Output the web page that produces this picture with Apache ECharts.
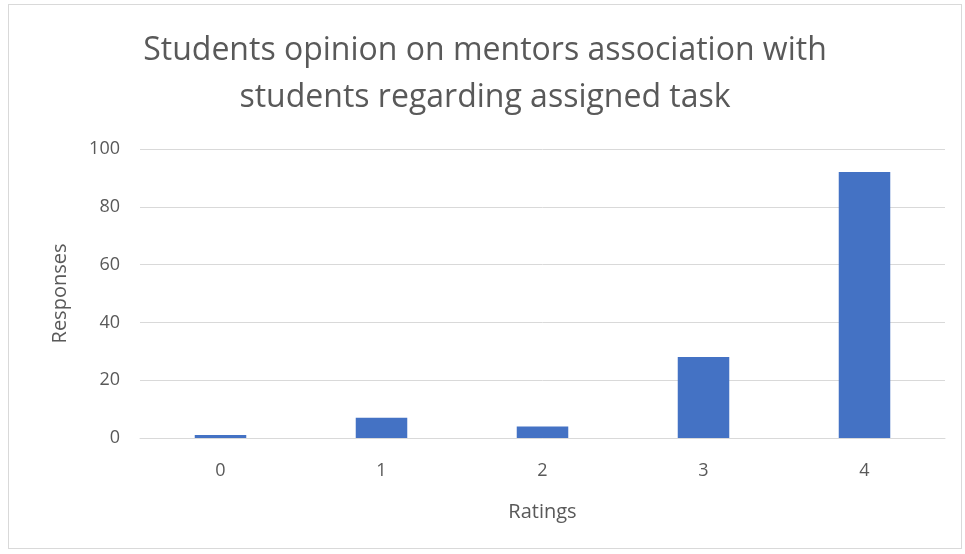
<!DOCTYPE html>
<html>
<head>
<meta charset="utf-8">
<script src="https://cdn.jsdelivr.net/npm/echarts@6/dist/echarts.min.js"></script>
<style>
  html, body { margin: 0; padding: 0; background: #fff; }
  #chart {
    position: absolute;
    left: 8px; top: 4px;
    width: 954px; height: 545px;
    border: 1px solid #d9d9d9;
    box-sizing: border-box;
  }
</style>
</head>
<body>
<div id="chart"></div>
<script>
// data
const ratings = ['0', '1', '2', '3', '4'];
const responses = [1, 7, 4, 28, 92];
const yTicks = { min: 0, max: 100, interval: 20 };

const chart = echarts.init(document.getElementById('chart'));
chart.setOption({
  animation: false,
  textStyle: { fontFamily: 'Open Sans, Liberation Sans, sans-serif' },
  title: {
    text: 'Students opinion on mentors association with\nstudents regarding assigned task',
    left: 'center',
    top: 17,
    textStyle: { fontSize: 32, fontWeight: 'normal', color: '#595959', lineHeight: 47 }
  },
  grid: { left: 131, right: 16, top: 144, bottom: 110 },
  xAxis: {
    type: 'category',
    data: ratings,
    name: 'Ratings',
    nameLocation: 'middle',
    nameGap: 64,
    nameTextStyle: { fontSize: 20, color: '#595959' },
    axisLine: { lineStyle: { color: '#d9d9d9', width: 1 } },
    axisTick: { show: false },
    axisLabel: { fontSize: 18, color: '#595959', margin: 24 }
  },
  yAxis: {
    type: 'value',
    min: yTicks.min,
    max: yTicks.max,
    interval: yTicks.interval,
    name: 'Responses',
    nameLocation: 'middle',
    nameGap: 70,
    nameTextStyle: { fontSize: 20, color: '#595959' },
    axisLine: { show: false },
    axisTick: { show: false },
    axisLabel: { fontSize: 18, color: '#595959', margin: 20 },
    splitLine: { lineStyle: { color: '#d9d9d9', width: 1 } }
  },
  series: [{
    type: 'bar',
    data: responses,
    barWidth: '32%',
    itemStyle: { color: '#4472c4' }
  }]
});
</script>
</body>
</html>
